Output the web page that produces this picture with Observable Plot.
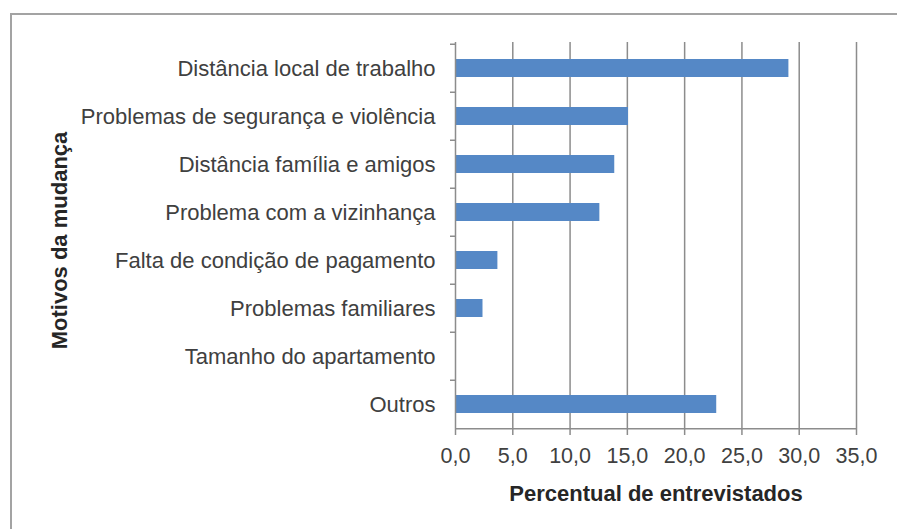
<!DOCTYPE html>
<html>
<head>
<meta charset="utf-8">
<script src="https://cdn.jsdelivr.net/npm/d3@7"></script>
<script src="https://cdn.jsdelivr.net/npm/@observablehq/plot@0.6"></script>
<style>
  html, body { margin: 0; padding: 0; background: #fff; }
  #wrap { position: relative; width: 897px; height: 529px; overflow: hidden; }
  #frame { position: absolute; left: 10px; top: 13px; width: 887px; height: 516px;
           border-top: 2px solid #a3a3a3; border-left: 2px solid #a3a3a3; box-sizing: border-box; }
  #chart { position: absolute; left: 0; top: 0; }
</style>
</head>
<body>
<div id="wrap"><div id="frame"></div><div id="chart"></div></div>
<script>
const categories = [
  "Distância local de trabalho",
  "Problemas de segurança e violência",
  "Distância família e amigos",
  "Problema com a vizinhança",
  "Falta de condição de pagamento",
  "Problemas familiares",
  "Tamanho do apartamento",
  "Outros"
];
const values = [29.1, 15.1, 13.9, 12.6, 3.7, 2.4, 0, 22.8];
const xTicks = [0, 5, 10, 15, 20, 25, 30, 35];
const xTitle = "Percentual de entrevistados";
const yTitle = "Motivos da mudança";

const data = categories.map((c, i) => ({motivo: c, valor: values[i]}));

const W = 897, H = 529, mT = 42, mB = 99, mL = 455, mR = 41;
const step = (H - mT - mB) / categories.length;
const fmt = d => d3.format(".1f")(d).replace(".", ",");
const axisGray = "#8c8c8c";

const chart = Plot.plot({
  width: W,
  height: H,
  marginTop: mT,
  marginBottom: mB,
  marginLeft: mL,
  marginRight: mR,
  style: {fontFamily: "'Liberation Sans', Arial, sans-serif", background: "transparent", color: "#404040"},
  x: {domain: [0, 35], axis: null},
  y: {domain: categories, paddingInner: 0.63, paddingOuter: 0.315, axis: null},
  marks: [
    Plot.gridX(xTicks.slice(1), {stroke: axisGray, strokeOpacity: 1, strokeWidth: 1.5}),
    Plot.barX(data, {x: "valor", y: "motivo", fill: "#5588c6"}),
    Plot.ruleX([0], {stroke: axisGray, strokeWidth: 1.5}),
    Plot.ruleY([categories[categories.length - 1]], {dy: step / 2, stroke: axisGray, strokeWidth: 1.5}),
    Plot.axisX({ticks: xTicks, tickFormat: fmt, tickSize: 5, tickPadding: 12, fontSize: 21.5,
                stroke: axisGray, strokeWidth: 1.5, fill: "#404040", label: null}),
    Plot.axisY({tickSize: 5, tickFormat: () => "", dy: -step / 2, stroke: axisGray, strokeWidth: 1.5, label: null}),
    Plot.axisY({tickSize: 0, tickPadding: 20, fontSize: 22, fill: "#404040", label: null}),
    Plot.text([xTitle], {frameAnchor: "bottom", dy: 63, fontSize: 22, fontWeight: "bold", fill: "#262626", lineAnchor: "middle", textAnchor: "middle"}),
    Plot.text([yTitle], {frameAnchor: "left", rotate: -90, dx: -396, dy: 4, fontSize: 22, fontWeight: "bold", fill: "#262626", lineAnchor: "middle", textAnchor: "middle"})
  ]
});
document.getElementById("chart").appendChild(chart);
</script>
</body>
</html>
